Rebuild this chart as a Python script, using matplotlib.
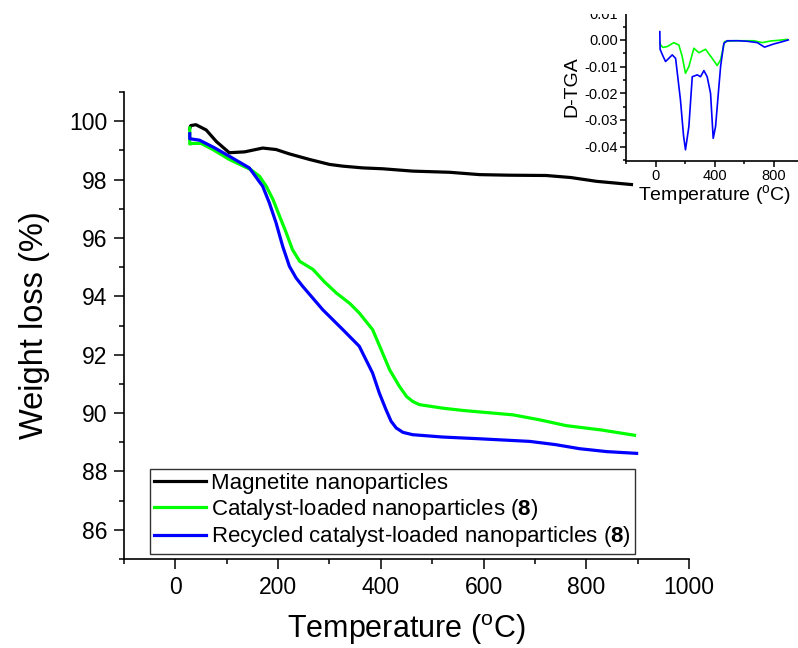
import matplotlib
matplotlib.use("Agg")
import matplotlib.pyplot as plt
from matplotlib.patches import Rectangle
from matplotlib.ticker import MultipleLocator, FormatStrFormatter

plt.rcParams['font.family'] = ['Liberation Sans', 'DejaVu Sans']
plt.rcParams['mathtext.fontset'] = 'custom'
plt.rcParams['mathtext.rm'] = 'Liberation Sans'
plt.rcParams['mathtext.bf'] = 'Liberation Sans:bold'
plt.rcParams['axes.unicode_minus'] = False

# TGA weight curves (temperature in C, weight in %)
mag_T = [28, 30, 40, 60, 80, 105, 135, 170, 196, 222, 261, 300, 326, 365,
         404, 462, 534, 592, 650, 722, 770, 820, 888]
mag_W = [99.75, 99.85, 99.88, 99.70, 99.30, 98.92, 98.95, 99.08, 99.03, 98.88,
         98.69, 98.52, 98.46, 98.40, 98.37, 98.29, 98.25, 98.17, 98.15, 98.14,
         98.07, 97.94, 97.83]

cat_T = [28, 28, 35, 50, 73, 105, 147, 164, 177, 190, 203, 216, 228, 242,
         268, 290, 313, 340, 358, 384, 400, 417, 436, 450, 462, 475, 520,
         560, 657, 709, 761, 830, 894]
cat_W = [99.77, 99.22, 99.24, 99.24, 99.03, 98.69, 98.34, 98.11, 97.77, 97.32,
         96.74, 96.17, 95.60, 95.20, 94.92, 94.50, 94.12, 93.75, 93.43, 92.86,
         92.20, 91.49, 90.92, 90.57, 90.40, 90.29, 90.17, 90.09, 89.94, 89.77,
         89.57, 89.42, 89.24]

rec_T = [28, 28, 47, 75, 105, 144, 170, 183, 196, 209, 222, 235, 248, 287,
         326, 358, 384, 397, 410, 420, 430, 443, 462, 520, 592, 690, 740,
         787, 840, 898]
rec_W = [99.57, 99.40, 99.35, 99.10, 98.80, 98.40, 97.77, 97.20, 96.52, 95.71,
         95.03, 94.63, 94.34, 93.54, 92.86, 92.29, 91.37, 90.69, 90.12, 89.72,
         89.49, 89.34, 89.26, 89.18, 89.12, 89.03, 88.92, 88.78, 88.68, 88.62]

# derivative curves for the inset
dtg_cat_T = [30, 34, 50, 79, 124, 158, 180, 203, 226, 260, 294, 339, 384,
             418, 441, 468, 531, 600, 667, 723, 780, 840, 893]
dtg_cat = [-0.0010, -0.0019, -0.0028, -0.0025, -0.0010, -0.0019, -0.0060,
           -0.0125, -0.0100, -0.0031, -0.0048, -0.0035, -0.0069, -0.0096,
           -0.0075, -0.0006, -0.0003, -0.0003, -0.0003, -0.0010, -0.0004,
           -0.0001, 0.0002]

dtg_rec_T = [29, 31, 50, 68, 90, 113, 136, 169, 190, 203, 226, 249, 283,
             305, 328, 350, 373, 391, 407, 422, 441, 463, 486, 560, 622, 690,
             739, 802, 850, 900]
dtg_rec = [0.0031, -0.0035, -0.0060, -0.0081, -0.0069, -0.0056, -0.0069,
           -0.0225, -0.0360, -0.0412, -0.0325, -0.0138, -0.0131, -0.0138,
           -0.0115, -0.0138, -0.0200, -0.0369, -0.0325, -0.0225, -0.0100,
           -0.0013, -0.0003, -0.0003, -0.0005, -0.0010, -0.0027, -0.0015,
           -0.0008, 0.0000]

labels = ['Magnetite nanoparticles',
          r'Catalyst-loaded nanoparticles ($\mathbf{8}$)',
          r'Recycled catalyst-loaded nanoparticles ($\mathbf{8}$)']
colors = ['#000000', '#00ff00', '#0000ff']


def style_axes(ax, size):
    for side in ['top', 'right']:
        ax.spines[side].set_visible(False)
    for side in ['left', 'bottom']:
        ax.spines[side].set_linewidth(1.2)
    ax.tick_params(which='major', direction='out', length=size, width=1.1)
    ax.tick_params(which='minor', direction='out', length=size * 0.55, width=1.1)


fig = plt.figure(figsize=(7.98, 6.48), dpi=100)
ax = fig.add_axes([0.1554, 0.1373, 0.708, 0.7207])

ax.plot(mag_T, mag_W, color=colors[0], lw=2.3, label=labels[0])
ax.plot(cat_T, cat_W, color=colors[1], lw=2.3, label=labels[1])
ax.plot(rec_T, rec_W, color=colors[2], lw=2.3, label=labels[2])

ax.set_xlim(-100, 1000)
ax.set_ylim(85, 101)
ax.xaxis.set_major_locator(MultipleLocator(200))
ax.xaxis.set_minor_locator(MultipleLocator(100))
ax.yaxis.set_major_locator(MultipleLocator(2))
ax.yaxis.set_minor_locator(MultipleLocator(1))
style_axes(ax, 7)
ax.tick_params(labelsize=16.5, pad=5)
ax.set_xlabel(r'Temperature ($^{\rm o}$C)', fontsize=22, labelpad=10)
ax.set_ylabel('Weight loss (%)', fontsize=23.5, labelpad=14)

leg = ax.legend(loc='lower left', bbox_to_anchor=(0.046, 0.011),
                borderaxespad=0, fontsize=16, frameon=True, fancybox=False,
                edgecolor='black', handlelength=2.3, handletextpad=0.25,
                labelspacing=0.12, borderpad=0.2)
leg.get_frame().set_linewidth(1.0)
for line in leg.get_lines():
    line.set_linewidth(2.3)

# inset: derivative curves
ins = fig.add_axes([0.7845, 0.752, 0.2218, 0.2275])
ins.plot(dtg_cat_T, dtg_cat, color=colors[1], lw=1.2)
ins.plot(dtg_rec_T, dtg_rec, color=colors[2], lw=1.2)
ins.set_xlim(-200, 1000)
ins.set_ylim(-0.0453, 0.01)
ins.xaxis.set_major_locator(MultipleLocator(400))
ins.xaxis.set_minor_locator(MultipleLocator(200))
ins.yaxis.set_major_locator(MultipleLocator(0.01))
ins.yaxis.set_minor_locator(MultipleLocator(0.005))
ins.yaxis.set_major_formatter(FormatStrFormatter('%.2f'))
style_axes(ins, 4)
ins.tick_params(labelsize=10.5, pad=2)
ins.set_xlabel(r'Temperature ($^{\rm o}$C)', fontsize=14, labelpad=0)
ins.set_ylabel('D-TGA', fontsize=14, labelpad=3)

# trim the top edge of the inset
fig.add_artist(Rectangle((0.68, 0.979), 0.32, 0.03, transform=fig.transFigure,
                         facecolor='white', edgecolor='none', zorder=10))

fig.savefig('out.png', dpi=100)
